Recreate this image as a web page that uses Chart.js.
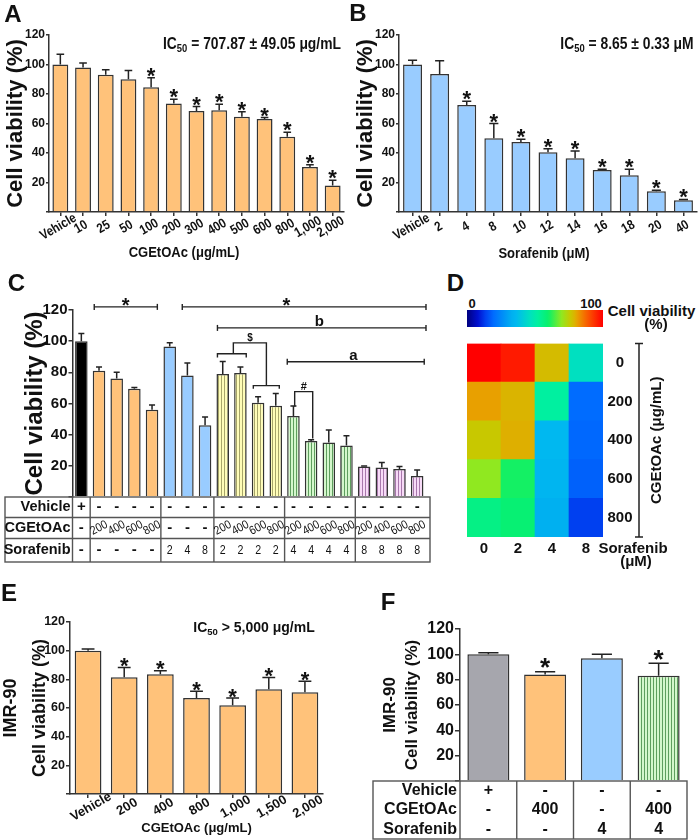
<!DOCTYPE html>
<html lang="en">
<head>
<meta charset="utf-8">
<title>Cell viability</title>
<script src="https://cdn.jsdelivr.net/npm/chart.js@4.4.1/dist/chart.umd.min.js"></script>
<style>
  html, body { margin:0; padding:0; background:#fff; }
  #fig { position:relative; width:700px; height:840px; overflow:hidden;
         font-family:'Liberation Sans', Arial, sans-serif; color:#111; }
  #fig canvas { position:absolute; }
  .t { position:absolute; transform:translate(-50%,-50%); font-weight:bold; line-height:1; white-space:nowrap; }
  .n { transform:translate(-50%,-50%) scaleX(.84); }
  .t sub { font-size:68%; line-height:0; vertical-align:-0.3em; }
  .lt { font-size:24px; }
  #cbar { position:absolute; left:467px; top:310px; width:136px; height:17px; }
</style>
</head>
<body>
<div id="fig">
  <canvas id="chartA" width="350" height="262" style="left:0;top:0"></canvas>
  <canvas id="chartB" width="350" height="262" style="left:350px;top:0"></canvas>
  <canvas id="chartC" width="440" height="300" style="left:0;top:270px"></canvas>
  <canvas id="chartD" width="240" height="230" style="left:460px;top:330px"></canvas>
  <canvas id="chartE" width="340" height="240" style="left:0;top:600px"></canvas>
  <canvas id="chartF" width="340" height="240" style="left:360px;top:600px"></canvas>
  <div id="cbar"></div>

  <div class="t lt" style="left:13px;top:13.5px">A</div>
  <div class="t lt" style="left:358px;top:13px">B</div>
  <div class="t lt" style="left:16.5px;top:282.5px">C</div>
  <div class="t lt" style="left:455.5px;top:282.5px">D</div>
  <div class="t lt" style="left:9px;top:592.5px">E</div>
  <div class="t lt" style="left:388px;top:601.5px">F</div>

  <div class="t n" style="left:252px;top:43px;font-size:16.5px">IC<sub>50</sub> = 707.87 ± 49.05 μg/mL</div>
  <div class="t n" style="left:627px;top:43px;font-size:16.5px">IC<sub>50</sub> = 8.65 ± 0.33 μM</div>
  <div class="t" style="left:254px;top:627px;font-size:14px">IC<sub>50</sub> &gt; 5,000 μg/mL</div>
  <div class="t n" style="left:184px;top:252px;font-size:15.5px">CGEtOAc (μg/mL)</div>
  <div class="t n" style="left:544px;top:253px;font-size:15.5px">Sorafenib (μM)</div>

  <div class="t" style="left:472px;top:303px;font-size:13px">0</div>
  <div class="t" style="left:591px;top:303px;font-size:13px">100</div>
  <div class="t" style="left:651.5px;top:310px;font-size:15px">Cell viability</div>
  <div class="t" style="left:656px;top:323px;font-size:15px">(%)</div>
  <div class="t" style="left:633px;top:547px;font-size:15px">Sorafenib</div>
  <div class="t" style="left:636px;top:560px;font-size:15px">(μM)</div>
</div>

<script>
// ---- 데이터 ----
// A: CGEtOAc 농도별
const aLabels = ['Vehicle','10','25','50','100','200','300','400','500','600','800','1,000','2,000'];
const aMeans  = [100, 98, 93, 90, 84.5, 73.5, 68.5, 69, 64.5, 63, 51, 30.5, 18];
const aErrs   = [7, 3, 3.5, 6, 6.5, 3, 3, 4, 3.5, 1, 3, 1.5, 3.5];
const aSig    = [0, 0, 0, 0, 1, 1, 1, 1, 1, 1, 1, 1, 1];

// B: Sorafenib 농도별
const bLabels = ['Vehicle','2','4','8','10','12','14','16','18','20','40'];
const bMeans  = [100, 93.5, 72.5, 50, 47.5, 40.5, 36.5, 28.5, 25, 14, 8];
const bErrs   = [2.8, 9, 2.6, 10, 1.8, 2.3, 4.8, 0.5, 3.9, 0.7, 0.5];
const bSig    = [0, 0, 1, 1, 1, 1, 1, 1, 1, 1, 1];

// C: 병용 처리
const cMeans   = [100, 81, 76, 69.5, 56, 96.5, 78, 46, 79, 79.5, 60.5, 58.5, 52, 36, 35, 33, 19.5, 19, 18, 13.5];
const cErrs    = [5, 2.5, 4, 0.7, 3, 2.5, 8, 5.3, 8, 3.9, 3.8, 7.9, 6.4, 0.7, 8, 6.3, 0.4, 3.2, 1.5, 3.8];
const cFill    = ['k','o','o','o','o','b','b','b','y','y','y','y','g','g','g','g','p','p','p','p'];
const cVehicle = ['+','-','-','-','-','-','-','-','-','-','-','-','-','-','-','-','-','-','-','-'];
const cCGE     = ['-','200','400','600','800','-','-','-','200','400','600','800','200','400','600','800','200','400','600','800'];
const cSor     = ['-','-','-','-','-','2','4','8','2','2','2','2','4','4','4','4','8','8','8','8'];
const cGroupEnds = [0, 4, 7, 11, 15];

// D: 히트맵 (행 = CGEtOAc, 열 = Sorafenib)
const hmSor   = ['0','2','4','8'];
const hmCge   = ['0','200','400','600','800'];
const hm0     = [100, 96.5, 78, 46];
const hm200   = [81, 79, 52, 19.5];
const hm400   = [76, 79.5, 36, 19];
const hm600   = [69.5, 60.5, 35, 18];
const hm800   = [56, 58.5, 33, 13.5];

// E: IMR-90, CGEtOAc
const eLabels = ['Vehicle','200','400','800','1,000','1,500','2,000'];
const eMeans  = [100, 81.5, 83.5, 67, 62, 73, 71];
const eErrs   = [1.2, 6.7, 2.5, 4.6, 4.9, 8.3, 7.7];
const eSig    = [0, 1, 1, 1, 1, 1, 1];

// F: IMR-90 병용
const fMeans   = [100, 84, 97, 83];
const fErrs    = [1.3, 2.3, 3, 10];
const fSig     = [0, 1, 0, 1];
const fFill    = ['gr','o','b','g'];
const fVehicle = ['+','-','-','-'];
const fCGE     = ['-','400','-','400'];
const fSor     = ['-','-','4','4'];

// ---- 스타일 ----
const FONT   = "'Liberation Sans', Arial, sans-serif";
const AXIS   = '#333';
const EDGE   = '#333';
const ORANGE = '#FFC27A';
const BLUE   = '#99CCFF';

Chart.defaults.font.family = FONT;
Chart.defaults.color = '#111';

// 세로 줄무늬 패턴
function stripes(bg, fg){
  const c = document.createElement('canvas');
  c.width = 3; c.height = 8;
  const g = c.getContext('2d');
  g.fillStyle = bg; g.fillRect(0, 0, 3, 8);
  g.fillStyle = fg; g.fillRect(2, 0, 1, 8);
  return g.createPattern(c, 'repeat');
}
const FILL = {
  k: '#000', o: ORANGE, b: BLUE, gr: '#A6A6AD',
  y: stripes('#FFFDB8', '#A8A66A'),
  g: stripes('#D4F7CC', '#5E9E5E'),
  p: stripes('#F7DAF7', '#A878AC')
};

// 히트맵 컬러맵 (컬러바에서 읽음)
const HM_STOPS = [[0,'#00007F'],[0.08,'#0010D0'],[0.135,'#0040F0'],[0.195,'#006CFF'],[0.33,'#00B0F0'],
  [0.36,'#00B8F0'],[0.46,'#00E0C0'],[0.52,'#00F0A0'],[0.59,'#08F070'],[0.61,'#18F060'],[0.695,'#90E820'],
  [0.76,'#C8C800'],[0.79,'#DAB400'],[0.81,'#E8A000'],[0.88,'#F86000'],[0.965,'#FF1A00'],[1,'#FF0000']];
function hex2rgb(h){ return [1,3,5].map(i => parseInt(h.substr(i,2),16)); }
function hmColor(t){
  t = Math.max(0, Math.min(1, t));
  for (let i = 1; i < HM_STOPS.length; i++){
    const [p1, c1] = HM_STOPS[i];
    if (t <= p1){
      const [p0, c0] = HM_STOPS[i-1];
      const f = (t - p0) / (p1 - p0 || 1);
      const a = hex2rgb(c0), b = hex2rgb(c1);
      return 'rgb(' + a.map((v,k) => Math.round(v + (b[k]-v)*f)).join(',') + ')';
    }
  }
  return HM_STOPS[HM_STOPS.length-1][1];
}
document.getElementById('cbar').style.background =
  'linear-gradient(to right,' + HM_STOPS.map(([p,c]) => c + ' ' + (p*100) + '%').join(',') + ')';

// ---- 플러그인 ----
// 위쪽 에러바 + 별표
function errorBars(o){
  return { id:'errorBars', afterDatasetsDraw(chart){
    const {ctx, scales:{y}} = chart;
    const vals = chart.data.datasets[0].data;
    ctx.save();
    ctx.strokeStyle = '#222'; ctx.lineWidth = 1.5; ctx.fillStyle = '#111';
    ctx.font = 'bold ' + o.starSize + 'px ' + FONT;
    ctx.textAlign = 'center'; ctx.textBaseline = 'alphabetic';
    chart.getDatasetMeta(0).data.forEach((bar, i) => {
      const yTop = y.getPixelForValue(vals[i] + o.errs[i]);
      const cap = bar.width * 0.24;
      ctx.beginPath();
      ctx.moveTo(bar.x, bar.y); ctx.lineTo(bar.x, yTop);
      ctx.moveTo(bar.x - cap, yTop); ctx.lineTo(bar.x + cap, yTop);
      ctx.stroke();
      if (o.sig && o.sig[i]) ctx.fillText('*', bar.x, yTop + o.starDy);
    });
    ctx.restore();
  }};
}

// 가운데 기준으로 회전한 x 라벨
function slantLabels(s){
  return { id:'slantLabels', afterDraw(chart){
    const {ctx, scales:{x}, chartArea} = chart;
    ctx.save();
    ctx.font = s.font; ctx.fillStyle = '#111';
    ctx.textAlign = 'center'; ctx.textBaseline = 'middle';
    chart.data.labels.forEach((lab, i) => {
      ctx.save();
      ctx.translate(x.getPixelForValue(i) + s.dx, chartArea.bottom + s.dy);
      ctx.rotate(-s.angle * Math.PI / 180);
      ctx.scale(s.sx || 1, 1);
      ctx.fillText(lab, 0, 0);
      ctx.restore();
    });
    ctx.restore();
  }};
}

// 차트 아래 처리 조건 표
function condTable(t){
  return { id:'condTable', afterDraw(chart){
    const {ctx, scales:{x}, chartArea:{left, right, bottom}} = chart;
    const L = left - t.labelW, R = right + t.extraR;
    const ys = [bottom];
    t.rowH.forEach(h => ys.push(ys[ys.length-1] + h));
    const B = ys[ys.length-1];
    const seg = (x0, y0, x1, y1) => { ctx.beginPath(); ctx.moveTo(x0, y0); ctx.lineTo(x1, y1); ctx.stroke(); };
    ctx.save();
    ctx.strokeStyle = '#555'; ctx.lineWidth = 1.4;
    ctx.strokeRect(L, bottom, R - L, B - bottom);
    if (t.inner) for (let k = 1; k < ys.length - 1; k++) seg(L, ys[k], R, ys[k]);
    seg(left, bottom, left, B);
    t.groups.forEach(i => {
      const gx = (x.getPixelForValue(i) + x.getPixelForValue(i + 1)) / 2;
      seg(gx, bottom, gx, B);
    });
    ctx.fillStyle = '#111'; ctx.textBaseline = 'middle';
    t.rows.forEach((row, k) => {
      const cy = (ys[k] + ys[k+1]) / 2;
      ctx.font = t.labelFont; ctx.textAlign = 'right';
      ctx.fillText(row.name, left - t.labelGap, cy);
      ctx.textAlign = 'center';
      row.vals.forEach((v, i) => {
        ctx.save();
        ctx.translate(x.getPixelForValue(i), cy);
        if (v === '-' || v === '+') ctx.font = t.signFont;
        else {
          ctx.font = row.font || t.signFont;
          if (row.tilt) ctx.rotate(-row.tilt * Math.PI / 180);
          if (row.sx) ctx.scale(row.sx, 1);
        }
        ctx.fillText(v, 0, 0);
        ctx.restore();
      });
    });
    ctx.restore();
  }};
}

// C의 유의성 괄호 (카테고리 인덱스, y값 기준)
function sigMarks(items){
  return { id:'sigMarks', afterDraw(chart){
    const {ctx, scales:{x, y}} = chart;
    ctx.save();
    ctx.strokeStyle = '#222'; ctx.lineWidth = 1.4; ctx.fillStyle = '#111';
    items.forEach(it => {
      const P = it.pts.map(([i, v]) => [x.getPixelForValue(i), y.getPixelForValue(v)]);
      ctx.beginPath();
      P.forEach(([px, py], k) => k ? ctx.lineTo(px, py) : ctx.moveTo(px, py));
      ctx.stroke();
      if (it.caps) [P[0], P[P.length-1]].forEach(([px, py]) => {
        ctx.beginPath(); ctx.moveTo(px, py - 3); ctx.lineTo(px, py + 3); ctx.stroke();
      });
      if (it.label){
        ctx.font = it.font; ctx.textAlign = 'center'; ctx.textBaseline = 'alphabetic';
        ctx.fillText(it.label, x.getPixelForValue(it.at[0]), y.getPixelForValue(it.at[1]) - it.dy);
      }
    });
    ctx.restore();
  }};
}

// ---- 막대 차트 공통 ----
function barChart(id, o){
  const el = document.getElementById(id);
  const plugins = [errorBars(o)];
  if (o.slant) plugins.push(slantLabels(o.slant));
  if (o.table) plugins.push(condTable(o.table));
  if (o.marks) plugins.push(sigMarks(o.marks));
  const x = o.table ? { display:false } : {
    grid:{ drawOnChartArea:false, drawTicks:true, tickLength:4, offset:false, color:AXIS, lineWidth:1.5 },
    border:{ color:AXIS, width:1.5 },
    ticks:{ display:false },
    title: o.xTitle ? { display:true, text:o.xTitle, font:{ size:13, weight:'bold' }, padding:{ top:0, bottom:4 } } : { display:false },
    afterFit: s => { s.height = o.xH; }
  };
  return new Chart(el, {
    type:'bar',
    data:{
      labels:o.labels,
      datasets:[{ data:o.means, backgroundColor:o.fills, borderColor:EDGE, borderWidth:1.5,
                  barPercentage:o.barPct, categoryPercentage:1 }]
    },
    options:{
      responsive:false, animation:false, devicePixelRatio:1,
      layout:{ padding:o.pad },
      plugins:{ legend:{ display:false }, tooltip:{ enabled:false } },
      scales:{
        x,
        y:{
          min:0, max:120,
          ticks:{ stepSize:20, padding:1, font:{ size:o.tickSize, weight:'bold' }, callback:v => v === 0 ? '' : v },
          grid:{ drawOnChartArea:false, tickLength:o.tickLen, color:AXIS, lineWidth:1.5 },
          border:{ color:AXIS, width:1.5 },
          title:{ display:true, text:o.yTitle,
                  font:{ size:o.yTitleSize, weight:'bold', lineHeight:o.yTitleLH || 1.2 },
                  padding:{ top:o.yTitlePad, bottom:0 } },
          afterFit: s => { s.width = o.yW; }
        }
      }
    },
    plugins
  });
}

// A
barChart('chartA', {
  labels:aLabels, means:aMeans, errs:aErrs, sig:aSig, fills:ORANGE, barPct:0.7,
  pad:{ top:35, right:6, left:0, bottom:0 }, yW:49, xH:50, tickSize:12, tickLen:3,
  yTitle:'Cell viability (%)', yTitleSize:22, yTitlePad:3, starSize:22, starDy:5,
  slant:{ font:'bold 13.5px ' + FONT, angle:30, dx:-2, dy:15, sx:0.85 }
});

// B
barChart('chartB', {
  labels:bLabels, means:bMeans, errs:bErrs, sig:bSig, fills:BLUE, barPct:0.7,
  pad:{ top:35, right:3, left:0, bottom:0 }, yW:49, xH:50, tickSize:12, tickLen:3,
  yTitle:'Cell viability (%)', yTitleSize:22, yTitlePad:3, starSize:22, starDy:5,
  slant:{ font:'bold 13.5px ' + FONT, angle:30, dx:-1, dy:15, sx:0.85 }
});

// C
barChart('chartC', {
  labels:cCGE, means:cMeans, errs:cErrs, sig:null, fills:cFill.map(k => FILL[k]), barPct:0.71,
  pad:{ top:40, right:14, left:0, bottom:73 }, yW:72.5, tickSize:15, tickLen:4,
  yTitle:'Cell viability (%)', yTitleSize:24, yTitlePad:21, starSize:20, starDy:5,
  table:{
    labelW:67.5, extraR:4, rowH:[20.5, 21, 23.5], inner:true, groups:cGroupEnds, labelGap:2,
    labelFont:'bold 14.5px ' + FONT, signFont:'bold 15px ' + FONT,
    rows:[
      { name:'Vehicle', vals:cVehicle },
      { name:'CGEtOAc', vals:cCGE, font:'12px ' + FONT, tilt:28, sx:0.88 },
      { name:'Sorafenib', vals:cSor, font:'12.5px ' + FONT, sx:0.85 }
    ]
  },
  marks:[
    { pts:[[0.73,122],[4.3,122]], caps:true, label:'*', at:[2.5,122], font:'bold 20px ' + FONT, dy:-5 },
    { pts:[[5.71,122],[19.5,122]], caps:true, label:'*', at:[11.6,122], font:'bold 20px ' + FONT, dy:-5 },
    { pts:[[7.7,108.5],[19.5,108.5]], caps:true, label:'b', at:[13.47,108.5], font:'bold 15px ' + FONT, dy:1.5 },
    { pts:[[11.65,86.8],[19.4,86.8]], caps:true, label:'a', at:[15.4,86.8], font:'bold 15px ' + FONT, dy:2 },
    { pts:[[7.7,89.5],[7.7,91.9],[9.33,91.9],[9.33,89.5]] },
    { pts:[[8.6,91.9],[8.6,98.9],[10.47,98.9],[10.47,71.5]], label:'$', at:[9.55,98.9], font:'bold 10px ' + FONT, dy:2 },
    { pts:[[9.73,69.5],[9.73,71.5],[11.2,71.5],[11.2,69.5]] },
    { pts:[[12.07,58],[12.07,67.6],[13.09,67.6],[13.09,37.5]], label:'#', at:[12.58,67.6], font:'bold 11px ' + FONT, dy:2 }
  ]
});

// D 히트맵: 행마다 쌓은 막대 한 칸씩
(function(){
  const el = document.getElementById('chartD');
  const rowsBottomUp = [hm800, hm600, hm400, hm200, hm0];
  const hmSide = { id:'hmSide', afterDraw(chart){
    const {ctx, chartArea:{right, top, bottom}} = chart;
    const lx = right + 36;
    ctx.save();
    ctx.strokeStyle = '#222'; ctx.lineWidth = 1.5;
    ctx.beginPath();
    ctx.moveTo(lx, top); ctx.lineTo(lx, bottom);
    ctx.moveTo(lx - 4, top); ctx.lineTo(lx + 4, top);
    ctx.moveTo(lx - 4, bottom); ctx.lineTo(lx + 4, bottom);
    ctx.stroke();
    ctx.translate(right + 54, (top + bottom) / 2);
    ctx.rotate(-Math.PI / 2);
    ctx.font = 'bold 15px ' + FONT; ctx.fillStyle = '#111';
    ctx.textAlign = 'center'; ctx.textBaseline = 'middle';
    ctx.fillText('CGEtOAc (μg/mL)', 0, 0);
    ctx.restore();
  }};
  new Chart(el, {
    type:'bar',
    data:{
      labels:hmSor,
      datasets:rowsBottomUp.map(r => ({
        data:r.map(() => 1), backgroundColor:r.map(v => hmColor(v / 100)),
        borderWidth:0, barPercentage:1, categoryPercentage:1
      }))
    },
    options:{
      responsive:false, animation:false, devicePixelRatio:1,
      layout:{ padding:{ left:7, top:8, right:0, bottom:0 } },
      plugins:{ legend:{ display:false }, tooltip:{ enabled:false } },
      scales:{
        x:{ stacked:true, grid:{ display:false, drawTicks:false }, border:{ display:false },
            ticks:{ padding:3, font:{ size:15, weight:'bold' } },
            afterFit: s => { s.height = 23; } },
        y:{ stacked:true, position:'right', min:0, max:5,
            grid:{ display:false, drawTicks:false }, border:{ display:false },
            afterBuildTicks: s => { s.ticks = [0.5, 1.5, 2.5, 3.5, 4.5].map(v => ({ value:v })); },
            ticks:{ crossAlign:'center', padding:4.5, font:{ size:15, weight:'bold' },
                    callback:(v, i) => hmCge[hmCge.length - 1 - i] },
            afterFit: s => { s.width = 97; } }
      }
    },
    plugins:[hmSide]
  });
})();

// E
barChart('chartE', {
  labels:eLabels, means:eMeans, errs:eErrs, sig:eSig, fills:ORANGE, barPct:0.74,
  pad:{ top:22, right:17, left:0, bottom:0 }, yW:70, xH:46, tickSize:12.5, tickLen:4,
  xTitle:'CGEtOAc (μg/mL)',
  yTitle:['IMR-90', 'Cell viability (%)'], yTitleSize:18, yTitleLH:1.6, yTitlePad:-3,
  starSize:22, starDy:5.5,
  slant:{ font:'bold 13px ' + FONT, angle:30, dx:3, dy:13 }
});

// F
barChart('chartF', {
  labels:fCGE, means:fMeans, errs:fErrs, sig:fSig, fills:fFill.map(k => FILL[k]), barPct:0.74,
  pad:{ top:29, right:13, left:0, bottom:59 }, yW:100, tickSize:16, tickLen:5,
  yTitle:['IMR-90', 'Cell viability (%)'], yTitleSize:17, yTitleLH:1.25, yTitlePad:20,
  starSize:26, starDy:4.5,
  table:{
    labelW:87, extraR:0, rowH:[19.3, 19.3, 19.4], inner:false, groups:[0, 1, 2], labelGap:3,
    labelFont:'bold 16px ' + FONT, signFont:'bold 16px ' + FONT,
    rows:[
      { name:'Vehicle', vals:fVehicle },
      { name:'CGEtOAc', vals:fCGE },
      { name:'Sorafenib', vals:fSor }
    ]
  }
});
</script>
</body>
</html>
